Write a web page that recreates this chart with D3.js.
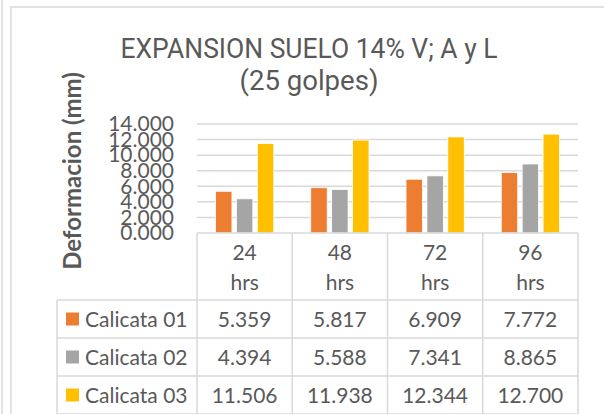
<!DOCTYPE html>
<html>
<head>
<meta charset="utf-8">
<script src="https://cdn.jsdelivr.net/npm/d3@7"></script>
<style>
  body { margin: 0; background: #fff; }
  svg { display: block; }
</style>
</head>
<body>
<div id="chart"></div>
<script>
var categories = ["24", "48", "72", "96"];
var catUnit = "hrs";
var seriesNames = ["Calicata 01", "Calicata 02", "Calicata 03"];
var calicata01 = [5.359, 5.817, 6.909, 7.772];
var calicata02 = [4.394, 5.588, 7.341, 8.865];
var calicata03 = [11.506, 11.938, 12.344, 12.700];
var yTicks = [0, 2, 4, 6, 8, 10, 12, 14];
var titleLines = ["EXPANSION SUELO 14% V; A y L", "(25 golpes)"];
var yTitle = "Deformacion (mm)";
var colors = ["#ED7D31", "#A5A5A5", "#FFC000"];

var series = [calicata01, calicata02, calicata03];

var width = 604,
    height = 414,
    plot = {left: 197, right: 578, top: 124, bottom: 233},
    tableLeft = 57,
    headerBottom = 300,
    rowH = 38;

var textColor = "#595959",
    lineColor = "#D9D9D9";

var svg = d3.select("#chart").append("svg")
  .attr("width", width)
  .attr("height", height);

// outer frames
svg.append("line")
  .attr("x1", 2).attr("x2", 2).attr("y1", 0).attr("y2", height)
  .style("stroke", lineColor).style("stroke-width", 1.5);
svg.append("rect")
  .attr("x", 11).attr("y", 7).attr("width", width + 20).attr("height", height + 20)
  .style("fill", "none").style("stroke", lineColor).style("stroke-width", 1.5);

// title
svg.selectAll(".title").data(titleLines).enter().append("text")
  .attr("class", "title")
  .attr("x", 309)
  .attr("y", function(d, i) { return 58 + i * 32; })
  .attr("text-anchor", "middle")
  .attr("textLength", function(d, i) { return i == 0 ? 377 : 139; })
  .attr("lengthAdjust", "spacingAndGlyphs")
  .style("font-family", "Roboto, sans-serif")
  .style("font-size", "27px")
  .style("fill", textColor)
  .text(function(d) { return d; });

var x0 = d3.scaleBand()
  .domain(categories)
  .range([plot.left, plot.right]);

var x1 = d3.scaleBand()
  .domain(d3.range(series.length))
  .range([18.5, x0.bandwidth() - 18.5])
  .paddingInner(0.214);

var y = d3.scaleLinear()
  .domain([0, 14])
  .range([plot.bottom, plot.top]);

// gridlines
svg.append("g").selectAll("line").data(yTicks.slice(1)).enter().append("line")
  .attr("x1", plot.left).attr("x2", plot.right)
  .attr("y1", function(d) { return y(d); })
  .attr("y2", function(d) { return y(d); })
  .style("stroke", lineColor).style("stroke-width", 1.5);

// y axis labels (they overlap in the original too)
var yAxis = d3.axisLeft(y)
  .tickValues(yTicks)
  .tickFormat(d3.format(".3f"))
  .tickSize(0)
  .tickPadding(0);

var gy = svg.append("g")
  .attr("transform", "translate(174,0)")
  .call(yAxis);
gy.select(".domain").remove();
gy.selectAll("text")
  .style("font-family", "Lato, sans-serif")
  .style("font-size", "21px")
  .style("fill", textColor);

// y axis title
svg.append("text")
  .attr("transform", "translate(81,171) rotate(-90)")
  .attr("text-anchor", "middle")
  .style("font-family", "Lato, sans-serif")
  .style("font-weight", "bold")
  .style("font-size", "24px")
  .style("fill", textColor)
  .text(yTitle);

// bars
var groups = svg.append("g").selectAll("g").data(categories).enter().append("g")
  .attr("transform", function(d) { return "translate(" + x0(d) + ",0)"; });

groups.selectAll("rect")
  .data(function(d, i) { return series.map(function(s, k) { return {k: k, v: s[i]}; }); })
  .enter().append("rect")
  .attr("x", function(d) { return x1(d.k); })
  .attr("width", x1.bandwidth())
  .attr("y", function(d) { return y(d.v); })
  .attr("height", function(d) { return y(0) - y(d.v); })
  .style("fill", function(d) { return colors[d.k]; })
  .style("stroke", "#fff")
  .style("stroke-width", 0.8);

// data table
var table = svg.append("g");
var tableBottom = headerBottom + rowH * series.length;

// horizontal lines
table.append("line")
  .attr("x1", plot.left).attr("x2", plot.right)
  .attr("y1", plot.bottom).attr("y2", plot.bottom);
d3.range(series.length + 1).forEach(function(r) {
  table.append("line")
    .attr("x1", tableLeft).attr("x2", plot.right)
    .attr("y1", headerBottom + r * rowH).attr("y2", headerBottom + r * rowH);
});
// vertical lines
var vx = categories.map(function(c) { return x0(c); }).concat([plot.right]);
vx.forEach(function(v) {
  table.append("line")
    .attr("x1", v).attr("x2", v)
    .attr("y1", plot.bottom).attr("y2", tableBottom + 5);
});
table.append("line")
  .attr("x1", tableLeft).attr("x2", tableLeft)
  .attr("y1", headerBottom).attr("y2", tableBottom + 5);
table.selectAll("line")
  .style("stroke", lineColor).style("stroke-width", 1.5);

// header labels
categories.forEach(function(c) {
  var cx = x0(c) + x0.bandwidth() / 2;
  table.append("text").attr("x", cx).attr("y", 260).text(c);
  table.append("text").attr("x", cx).attr("y", 290).text(catUnit);
});

// rows
series.forEach(function(s, k) {
  var ry = headerBottom + k * rowH;
  table.append("rect")
    .attr("x", 66).attr("y", ry + 12.5)
    .attr("width", 13).attr("height", 13)
    .style("fill", colors[k]);
  table.append("text")
    .attr("x", 85).attr("y", ry + 27)
    .attr("class", "lbl")
    .text(seriesNames[k]);
  s.forEach(function(v, i) {
    table.append("text")
      .attr("x", x0(categories[i]) + x0.bandwidth() / 2)
      .attr("y", ry + 27)
      .text(d3.format(".3f")(v));
  });
});

table.selectAll("text")
  .attr("text-anchor", function() { return d3.select(this).classed("lbl") ? "start" : "middle"; })
  .style("font-family", "Lato, sans-serif")
  .style("font-size", "21px")
  .style("fill", textColor);
</script>
</body>
</html>
